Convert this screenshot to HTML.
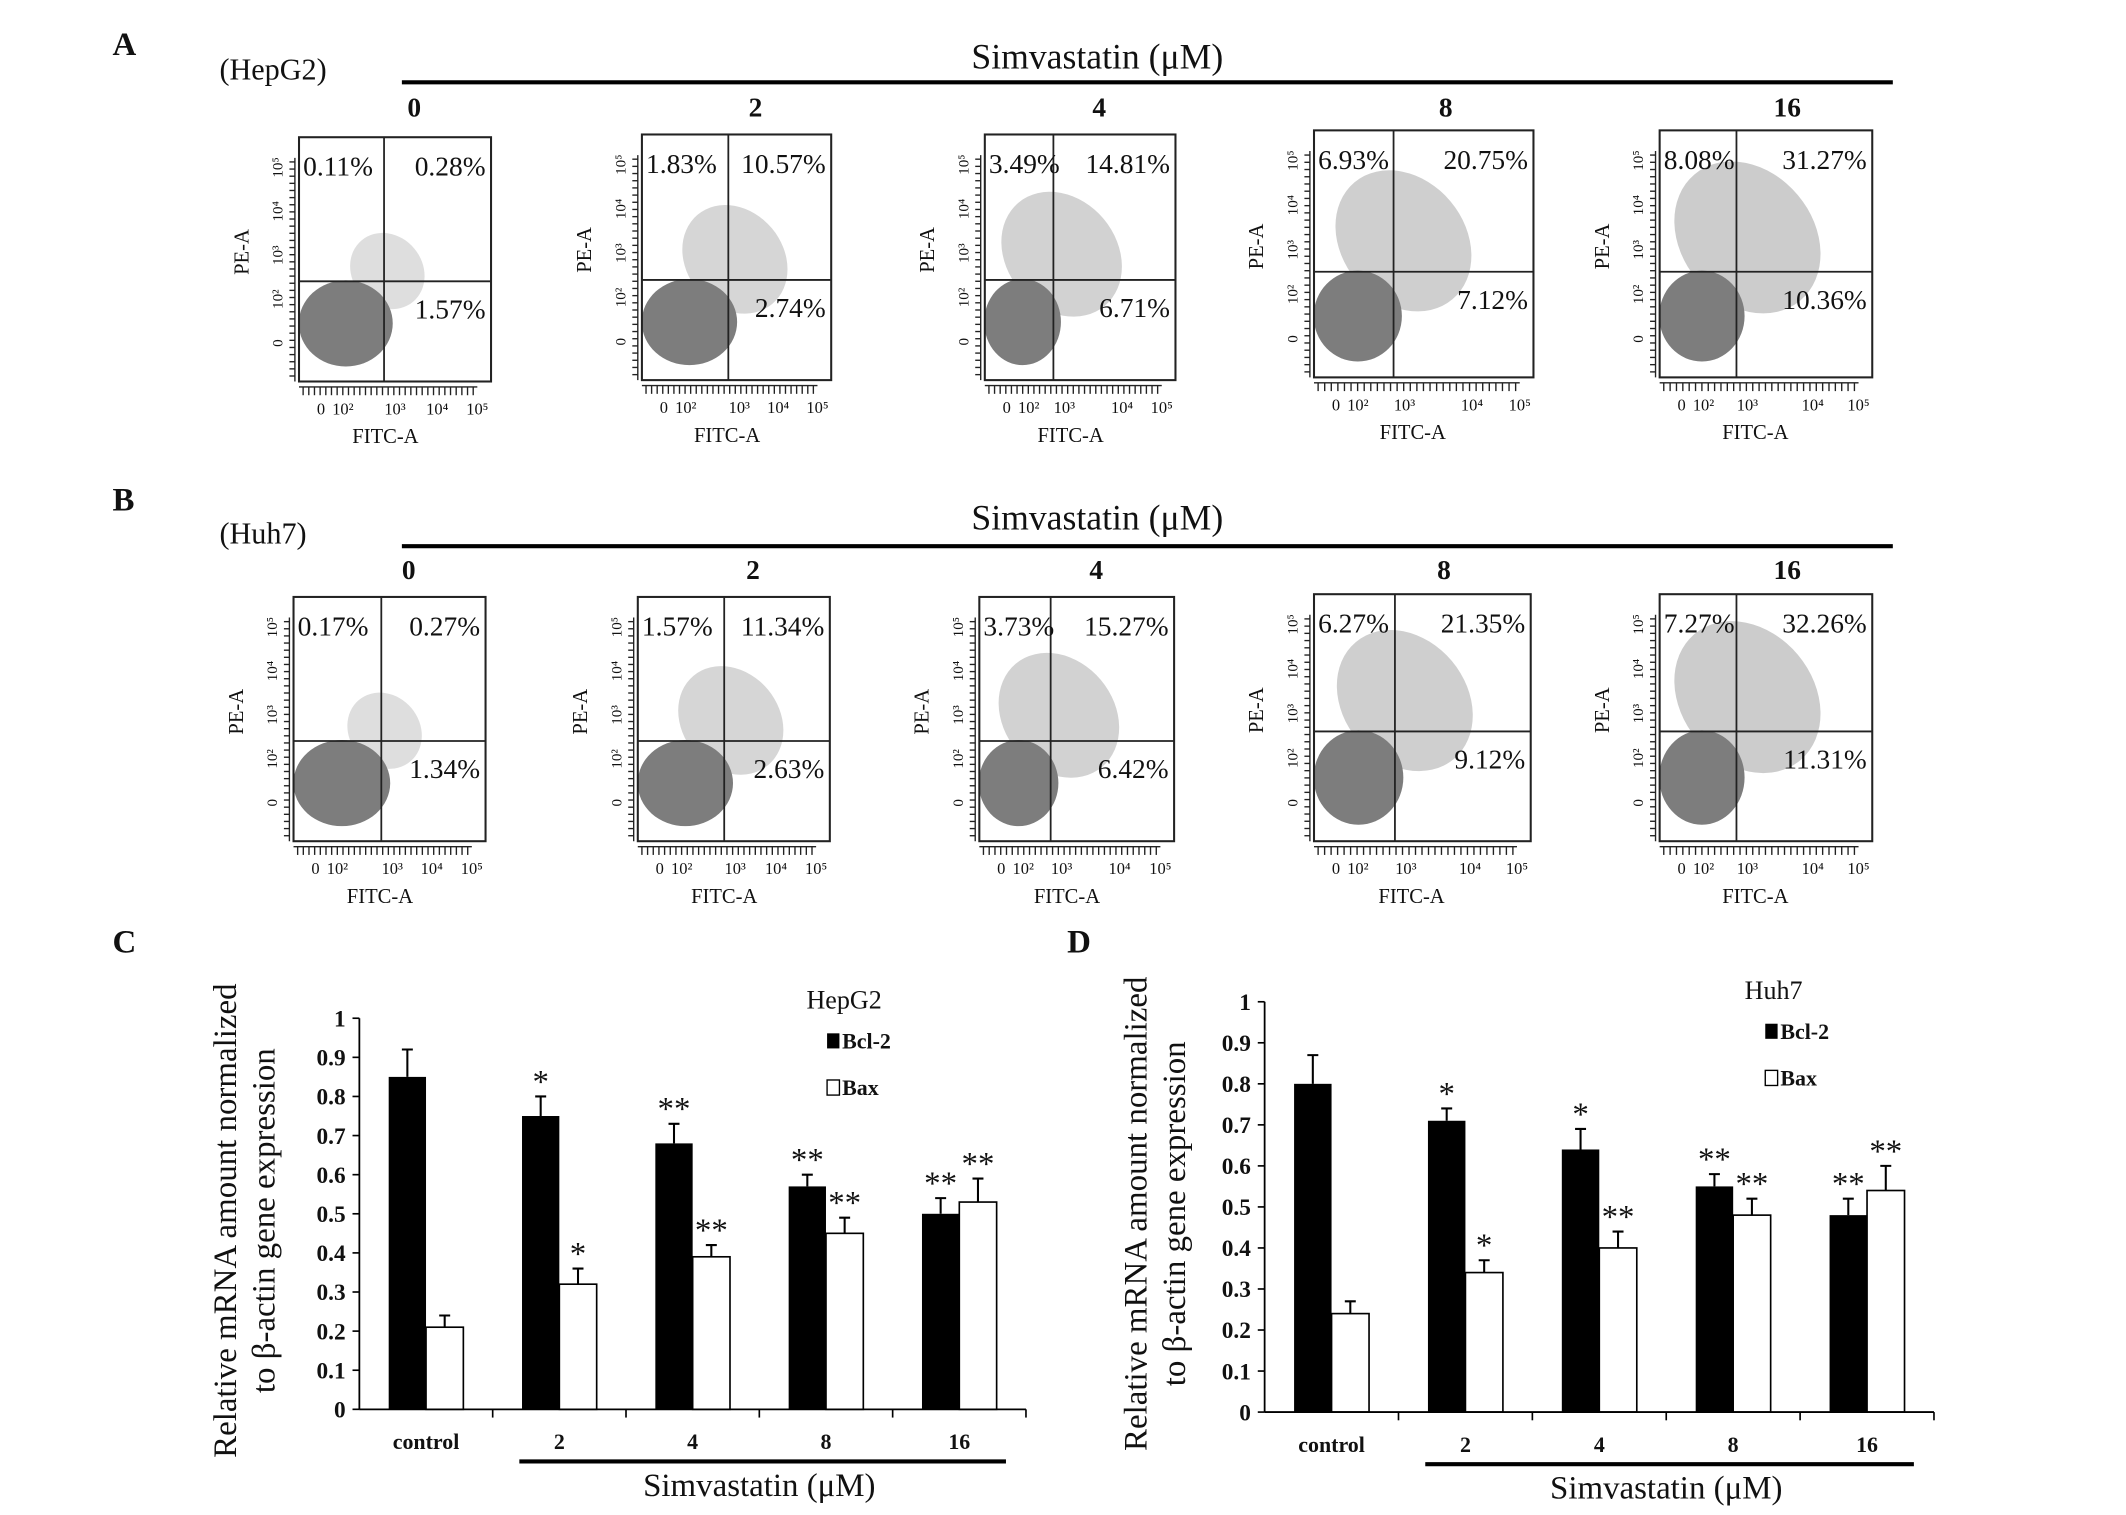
<!DOCTYPE html>
<html><head><meta charset="utf-8"><style>
html,body{margin:0;padding:0;background:#fff}
svg{display:block}
text{font-family:"Liberation Serif",serif;fill:#111}
</style></head><body>
<svg id="fig" width="2126" height="1515" viewBox="0 0 1550 1104" preserveAspectRatio="none" xmlns="http://www.w3.org/2000/svg">
<g id="flow"></g>
<g id="bars"></g>
</svg>
<script>
// ---- Flow cytometry quadrant percentages (UL, UR, LR) ----
const doses = ["0","2","4","8","16"];
const hepUL = ["0.11%","1.83%","3.49%","6.93%","8.08%"];
const hepUR = ["0.28%","10.57%","14.81%","20.75%","31.27%"];
const hepLR = ["1.57%","2.74%","6.71%","7.12%","10.36%"];
const huhUL = ["0.17%","1.57%","3.73%","6.27%","7.27%"];
const huhUR = ["0.27%","11.34%","15.27%","21.35%","32.26%"];
const huhLR = ["1.34%","2.63%","6.42%","9.12%","11.31%"];
// apoptotic spread (relative size of scattered cloud)
const hepSpread = [0.3,0.6,0.75,0.9,1.0];
const huhSpread = [0.3,0.6,0.75,0.9,1.0];

// ---- Bar chart data ----
const categories = ["control","2","4","8","16"];
const yTicks = [0,0.1,0.2,0.3,0.4,0.5,0.6,0.7,0.8,0.9,1];
const cBcl = [0.85,0.75,0.68,0.57,0.50];
const cBclErr = [0.07,0.05,0.05,0.03,0.04];
const cBax = [0.21,0.32,0.39,0.45,0.53];
const cBaxErr = [0.03,0.04,0.03,0.04,0.06];
const cBclStar = ["","*","**","**","**"];
const cBaxStar = ["","*","**","**","**"];
const dBcl = [0.80,0.71,0.64,0.55,0.48];
const dBclErr = [0.07,0.03,0.05,0.03,0.04];
const dBax = [0.24,0.34,0.40,0.48,0.54];
const dBaxErr = [0.03,0.03,0.04,0.04,0.06];
const dBclStar = ["","*","*","**","**"];
const dBaxStar = ["","*","**","**","**"];

const NS="http://www.w3.org/2000/svg";
function mk(parent,tag,attrs,txt){const e=document.createElementNS(NS,tag);for(const k in attrs)e.setAttribute(k,attrs[k]);if(txt!==undefined)e.textContent=txt;parent.appendChild(e);return e;}

const flow=document.getElementById('flow');
function label(g,x,y,t,size,weight,name,anchor){const e=mk(g,'text',{x:x,y:y,'font-size':size,'font-weight':weight||'normal','text-anchor':anchor||'start'},t);

return e;}

function flowRow(letter,letterY,cell,cellY,lineY,titleY,doseY,boxes,UL,UR,LR,spread,rowName){
  const g=mk(flow,'g',{});
  
  
  label(g,82,letterY,letter,24,'bold','panel-letter-'+letter);
  label(g,160,cellY,cell,22,'normal','cell-line-label');
  const ln=mk(g,'line',{x1:293,x2:1380,y1:lineY,y2:lineY,stroke:'#000','stroke-width':3});
  
  
  label(g,800,titleY,'Simvastatin (μM)',26,'normal','treatment-title','middle');
  boxes.forEach((b,i)=>{
    const [x0,y0,w,h,vx,hy]=b;
    const p=mk(g,'g',{});
    
    
    label(p,x0+w*0.6,doseY,doses[i],20,'bold','dose-label','middle');
    const s=spread[i];
    const sc=mk(p,'ellipse',{cx:vx+8*s,cy:hy-25*s,rx:16+32*s,ry:16+44*s,fill:'#aaa',opacity:0.3+0.3*s,transform:`rotate(-40 ${vx+8*s} ${hy-25*s})`});
    
    
    const cl=mk(p,'ellipse',{cx:x0+(vx-x0)*0.55,cy:hy+(y0+h-hy)*0.42,rx:(vx-x0)*0.52+2,ry:(y0+h-hy)*0.43,fill:'#7d7d7d'});
    
    
    const bx=mk(p,'rect',{x:x0,y:y0,width:w,height:h,fill:'none',stroke:'#222','stroke-width':1.5});
    
    
    const l1=mk(p,'line',{x1:vx,x2:vx,y1:y0,y2:y0+h,stroke:'#222','stroke-width':1.3});
    
    
    const l2=mk(p,'line',{x1:x0,x2:x0+w,y1:hy,y2:hy,stroke:'#222','stroke-width':1.3});
    
    
    label(p,x0+3,y0+28,UL[i],20,'normal','quadrant-upper-left-pct');
    label(p,x0+w-4,y0+28,UR[i],20,'normal','quadrant-upper-right-pct','end');
    label(p,x0+w-4,hy+27,LR[i],20,'normal','quadrant-lower-right-pct','end');
    const ax=mk(p,'g',{stroke:'#222','stroke-width':1});
    
    
    mk(ax,'line',{x1:x0-3,x2:x0-3,y1:y0+15,y2:y0+h});
    mk(ax,'line',{x1:x0,x2:x0+w-10,y1:y0+h+4,y2:y0+h+4});
    for(let k=0;k<=30;k++){const yy=y0+18+k*(h-22)/30;mk(ax,'line',{x1:x0-7,x2:x0-3,y1:yy,y2:yy});}
    for(let k=0;k<=30;k++){const xx=x0+3+k*(w-16)/30;mk(ax,'line',{x1:xx,x2:xx,y1:y0+h+4,y2:y0+h+10});}
    const ylab=["0","10²","10³","10⁴","10⁵"];
    ylab.forEach((t,k)=>{const yy=y0+h-28-k*(h-50)/4;const tt=mk(p,'text',{x:x0-12,y:yy,'font-size':11,'text-anchor':'middle',transform:`rotate(-90 ${x0-12} ${yy})`},t);
      
      });
    const xl=["0","10²","10³","10⁴","10⁵"];
    const xs=[x0+16,x0+32,vx+8,x0+w*0.72,x0+w-10];
    xl.forEach((t,k)=>{label(p,xs[k],y0+h+24,t,12,'normal','x-tick-label','middle');});
    const pe=mk(p,'text',{x:x0-37,y:y0+h*0.47,'font-size':15,'text-anchor':'middle',transform:`rotate(-90 ${x0-37} ${y0+h*0.47})`},'PE-A');
    
    
    label(p,x0+w*0.45,y0+h+45,'FITC-A',15,'normal','x-axis-title','middle');
  });
}
const boxesA=[[218,100,140,178,280,205],[468,98,138,179,531,204],[718,98,139,179,768,204],[958,95,160,180,1016,198],[1210,95,155,180,1266,198]];
const boxesB=[[214,435,140,178,278,540],[465,435,140,178,528,540],[714,435,142,178,766,540],[958,433,158,180,1017,533],[1210,433,155,180,1266,533]];
flowRow('A',40,'(HepG2)',58,60,50,85,boxesA,hepUL,hepUR,hepLR,hepSpread,'flow-row-hepg2');
flowRow('B',372,'(Huh7)',396,398,386,422,boxesB,huhUL,huhUR,huhLR,huhSpread,'flow-row-huh7');

// ---- Bar charts ----
const bars=document.getElementById('bars');
function barChart(o){
  const g=mk(bars,'g',{});
  
  
  const y=v=>o.y0-(o.y0-o.y1)*v;
  const gw=(o.xe-o.x0)/categories.length;
  const bw=gw*0.28;
  label(g,o.letterX,694,o.letter,24,'bold','panel-letter-'+o.letter);
  const ya=mk(g,'line',{x1:o.x0,x2:o.x0,y1:o.y1,y2:o.y0,stroke:'#000','stroke-width':1.3});
  
  
  yTicks.forEach(t=>{
    const tl=mk(g,'line',{x1:o.x0-5,x2:o.x0,y1:y(t),y2:y(t),stroke:'#000','stroke-width':1.2});
    
    
    label(g,o.x0-10,y(t)+6,String(t),17,'bold','y-tick-label','end');
  });
  categories.forEach((c,i)=>{
    const gx=o.x0+gw*i;
    const tk=mk(g,'line',{x1:gx+gw,x2:gx+gw,y1:o.y0,y2:o.y0+6,stroke:'#000','stroke-width':1.2});
    
    
    const bx=gx+gw*0.22;
    const b1=mk(g,'rect',{x:bx,y:y(o.bcl[i]),width:bw,height:y(0)-y(o.bcl[i]),fill:'#000'});
    
    
    const b2=mk(g,'rect',{x:bx+bw,y:y(o.bax[i]),width:bw,height:y(0)-y(o.bax[i]),fill:'#fff',stroke:'#000','stroke-width':1.2});
    
    
    [[bx+bw/2,o.bcl[i],o.bclE[i],o.bclS[i]],[bx+bw*1.5,o.bax[i],o.baxE[i],o.baxS[i]]].forEach(([cx,v,e,s])=>{
      const eb=mk(g,'path',{d:`M${cx} ${y(v)}V${y(v+e)}M${cx-4} ${y(v+e)}H${cx+4}`,stroke:'#000','stroke-width':1.5,fill:'none'});
      
      
      if(s) label(g,cx,y(v+e)-3,s,24,'normal','significance-stars','middle');
    });
    label(g,gx+gw/2,o.y0+29,c,16,'bold','x-tick-label','middle');
  });
  const xa=mk(g,'line',{x1:o.x0,x2:o.xe,y1:o.y0,y2:o.y0,stroke:'#000','stroke-width':1.3});
  
  
  const ul=mk(g,'line',{x1:o.x0+gw*1.2,x2:o.x0+gw*4.85,y1:o.y0+38,y2:o.y0+38,stroke:'#000','stroke-width':3});
  
  
  label(g,o.x0+gw*3,o.y0+63,'Simvastatin (μM)',24,'normal','x-axis-title','middle');
  const cy=(o.y0+o.y1)/2+5;
  [[o.tx1,'Relative mRNA amount normalized'],[o.tx2,'to β-actin gene expression']].forEach(([tx,t])=>{
    const tt=mk(g,'text',{x:tx,y:cy,'font-size':24,'text-anchor':'middle',transform:`rotate(-90 ${tx} ${cy})`},t);
    
    
  });
  const lg=mk(g,'g',{});
  
  
  label(lg,o.lx-15,o.ly,o.cell,19,'normal','legend-title');
  const s1=mk(lg,'rect',{x:o.lx,y:o.ly+18,width:9,height:11,fill:'#000'});
  
  
  label(lg,o.lx+11,o.ly+29,'Bcl-2',16,'bold','legend-entry-bcl2');
  const s2=mk(lg,'rect',{x:o.lx,y:o.ly+52,width:9,height:11,fill:'#fff',stroke:'#000','stroke-width':1});
  
  
  label(lg,o.lx+11,o.ly+63,'Bax',16,'bold','legend-entry-bax');
}
barChart({name:'chart-hepg2',letter:'C',letterX:82,x0:262,xe:748,y0:1027,y1:742,bcl:cBcl,bclE:cBclErr,bax:cBax,baxE:cBaxErr,bclS:cBclStar,baxS:cBaxStar,tx1:172,tx2:200,lx:603,ly:735,cell:'HepG2'});
barChart({name:'chart-huh7',letter:'D',letterX:778,x0:922,xe:1410,y0:1029,y1:730,bcl:dBcl,bclE:dBclErr,bax:dBax,baxE:dBaxErr,bclS:dBclStar,baxS:dBaxStar,tx1:836,tx2:864,lx:1287,ly:728,cell:'Huh7'});
</script>
</body></html>
